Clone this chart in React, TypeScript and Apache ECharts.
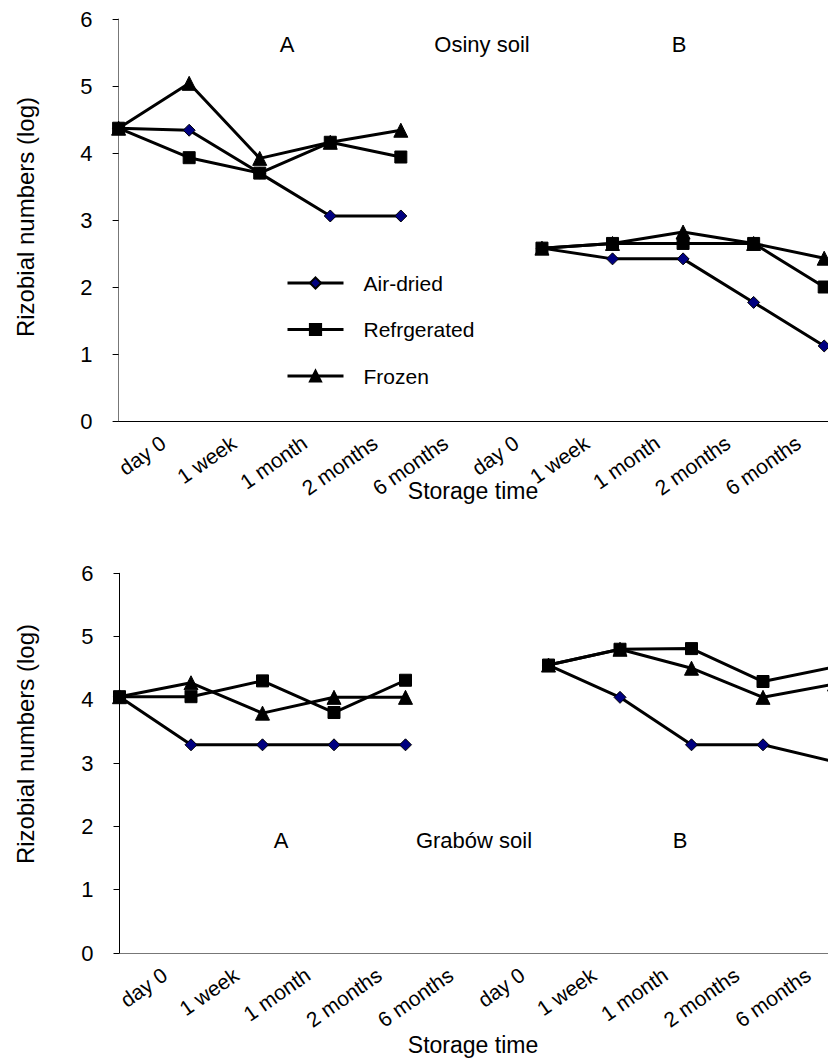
import React, { useEffect, useRef } from "react";
import * as echarts from "echarts";

const storageTimes = ["day 0", "1 week", "1 month", "2 months", "6 months"];
const tickLabels = [...storageTimes, ...storageTimes, ""];
const yTicks = [0, 1, 2, 3, 4, 5, 6];

// Osiny soil
const osinyA_air = [4.37, 4.34, 3.7, 3.06, 3.06];
const osinyA_ref = [4.37, 3.93, 3.7, 4.16, 3.94];
const osinyA_fro = [4.37, 5.04, 3.92, 4.16, 4.34];
const osinyB_air = [2.58, 2.42, 2.42, 1.77, 1.12];
const osinyB_ref = [2.58, 2.65, 2.65, 2.65, 2.0];
const osinyB_fro = [2.58, 2.65, 2.82, 2.65, 2.43];

// Grabów soil
const grabowA_air = [4.05, 3.29, 3.29, 3.29, 3.29];
const grabowA_ref = [4.05, 4.05, 4.3, 3.8, 4.31];
const grabowA_fro = [4.05, 4.27, 3.79, 4.04, 4.04];
const grabowB_air = [4.55, 4.04, 3.29, 3.29, 3.02];
const grabowB_ref = [4.55, 4.8, 4.81, 4.29, 4.52];
const grabowB_fro = [4.55, 4.8, 4.5, 4.04, 4.25];

const FONT = "'Liberation Sans', Arial, sans-serif";

function pts(vals: number[], offset: number) {
  return vals.map((v, i) => [i + offset, v]);
}

const treatments = [
  { name: "Air-dried", symbol: "diamond", size: 12, color: "#000080", z: 3 },
  { name: "Frozen", symbol: "triangle", size: 14, color: "#000000", z: 3 },
  { name: "Refrgerated", symbol: "rect", size: 12, color: "#000000", z: 4 },
];

export default function App() {
  const ref = useRef<HTMLDivElement>(null);
  useEffect(() => {
    if (!ref.current) return;
    const chart = echarts.init(ref.current, undefined, { renderer: "svg" });

    const grids = [
      { left: 118.6, top: 19, width: 11 * 70.56, height: 402 },
      { left: 119.5, top: 573.3, width: 11 * 71.5, height: 379.7 },
    ];

    const xAxis: any[] = [];
    const yAxis: any[] = [];
    grids.forEach((g, gi) => {
      xAxis.push({
        type: "category",
        gridIndex: gi,
        data: tickLabels,
        boundaryGap: true,
        axisLine: { lineStyle: { color: gi === 0 ? "#000" : "#777", width: 1 } },
        axisTick: { length: 6, lineStyle: { color: "#000" } },
        axisLabel: {
          interval: 0,
          rotate: 35,
          margin: 6,
          verticalAlign: "top",
          padding: [6, 0, 0, 0],
          color: "#000",
          fontFamily: FONT,
          fontSize: 21,
        },
        splitLine: { show: false },
      });
      xAxis.push({
        type: "value",
        gridIndex: gi,
        min: 0,
        max: 11,
        show: false,
      });
      yAxis.push({
        type: "value",
        gridIndex: gi,
        min: yTicks[0],
        max: yTicks[yTicks.length - 1],
        interval: 1,
        axisLine: { show: true, lineStyle: { color: gi === 0 ? "#777" : "#000", width: 1 } },
        axisTick: { show: true, length: 6, lineStyle: { color: "#000" } },
        axisLabel: { margin: 26, color: "#000", fontFamily: FONT, fontSize: 22 },
        splitLine: { show: false },
      });
    });

    const sets = [
      { grid: 0, A: [osinyA_air, osinyA_fro, osinyA_ref], B: [osinyB_air, osinyB_fro, osinyB_ref] },
      { grid: 1, A: [grabowA_air, grabowA_fro, grabowA_ref], B: [grabowB_air, grabowB_fro, grabowB_ref] },
    ];
    const series: any[] = [];
    sets.forEach((s) => {
      (["A", "B"] as const).forEach((part) => {
        treatments.forEach((t, ti) => {
          series.push({
            type: "line",
            name: t.name,
            xAxisIndex: s.grid * 2 + 1,
            yAxisIndex: s.grid,
            data: pts(s[part][ti], part === "A" ? 0 : 6),
            symbol: t.symbol,
            symbolSize: t.size,
            z: t.z,
            lineStyle: { color: "#000", width: 3 },
            itemStyle: { color: t.color, borderColor: "#000", borderWidth: 1, opacity: 1 },
          });
        });
      });
    });

    const text = (str: string, x: number, y: number, size: number, extra: any = {}) => ({
      type: "text",
      x,
      y,
      ...extra,
      style: {
        text: str,
        fill: "#000",
        font: `${size}px ${FONT}`,
        textAlign: "center",
        textVerticalAlign: "middle",
      },
    });

    chart.setOption({
      animation: false,
      backgroundColor: "#fff",
      grid: grids,
      xAxis,
      yAxis,
      series,
      legend: {
        data: ["Air-dried", "Refrgerated", "Frozen"],
        orient: "vertical",
        left: 281,
        top: 266,
        itemWidth: 56,
        itemHeight: 14,
        itemGap: 22.5,
        lineStyle: { width: 3, color: "#000" },
        textStyle: { color: "#000", fontFamily: FONT, fontSize: 21, lineHeight: 24, padding: [0, 0, 0, 15] },
      },
      graphic: [
        text("A", 287, 44, 22),
        text("Osiny soil", 482, 44, 22),
        text("B", 679, 44, 22),
        text("Storage time", 473, 491, 23),
        text("Rizobial numbers (log)", 25, 217, 24, { rotation: Math.PI / 2 }),
        text("A", 281, 840, 22),
        text("Grabów soil", 474, 840, 22),
        text("B", 680, 840, 22),
        text("Storage time", 473, 1045, 23),
        text("Rizobial numbers (log)", 25, 744, 24, { rotation: Math.PI / 2 }),
      ],
    });
    return () => chart.dispose();
  }, []);

  return (
    <div style={{ position: "absolute", left: 0, top: 0, width: 828, height: 1059, overflow: "hidden", background: "#fff" }}>
      <div ref={ref} style={{ width: 940, height: 1059 }} />
    </div>
  );
}
